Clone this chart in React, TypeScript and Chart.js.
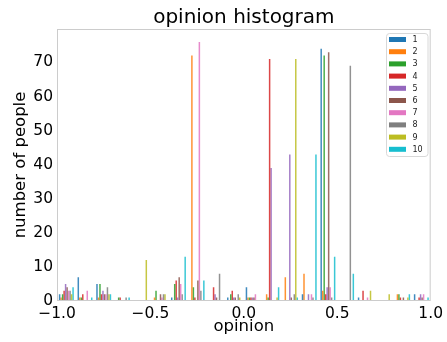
import React, { useEffect, useRef } from "react";
import { Chart, registerables } from "chart.js";

Chart.register(...registerables);

// 20 bins of width 0.1 from -1.0 to 1.0 (bin centres)
const binLabels = [
  "-0.95", "-0.85", "-0.75", "-0.65", "-0.55", "-0.45", "-0.35", "-0.25", "-0.15", "-0.05",
  "0.05", "0.15", "0.25", "0.35", "0.45", "0.55", "0.65", "0.75", "0.85", "0.95",
];

const seriesNames = ["1", "2", "3", "4", "5", "6", "7", "8", "9", "10"];

const s1 = [2, 7, 5, 0, 0, 0, 1, 0, 0, 1, 4, 0, 0, 2, 74, 0, 1, 0, 0, 2];
const s2 = [1, 1, 1, 0, 0, 1, 0, 72, 0, 0, 1, 2, 7, 8, 3, 0, 0, 0, 2, 0];
const s3 = [2, 1, 5, 1, 0, 3, 5, 4, 0, 2, 1, 1, 0, 0, 72, 0, 0, 0, 2, 0];
const s4 = [3, 2, 2, 1, 0, 0, 6, 1, 4, 3, 1, 71, 0, 0, 2, 0, 3, 0, 1, 1];
const s5 = [5, 0, 3, 0, 0, 0, 1, 0, 2, 1, 1, 39, 43, 2, 4, 0, 0, 0, 0, 2];
const s6 = [4, 0, 2, 0, 0, 2, 7, 6, 1, 1, 1, 0, 1, 0, 73, 0, 0, 0, 1, 1];
const s7 = [3, 3, 2, 0, 0, 1, 5, 76, 0, 0, 2, 0, 0, 2, 4, 0, 1, 0, 0, 2];
const s8 = [3, 0, 4, 1, 0, 2, 2, 3, 8, 2, 0, 0, 2, 1, 1, 69, 0, 0, 0, 0];
const s9 = [2, 0, 2, 0, 12, 2, 0, 0, 0, 1, 0, 1, 71, 0, 0, 0, 3, 2, 1, 0];
const s10 = [4, 1, 2, 1, 0, 0, 13, 6, 0, 0, 0, 4, 1, 43, 13, 8, 0, 0, 2, 1];

const series = [s1, s2, s3, s4, s5, s6, s7, s8, s9, s10];

const colors = [
  "#1f77b4", "#ff7f0e", "#2ca02c", "#d62728", "#9467bd",
  "#8c564b", "#e377c2", "#7f7f7f", "#bcbd22", "#17becf",
];

const xTicks = [-1, -0.5, 0, 0.5, 1];
const yTicks = [0, 10, 20, 30, 40, 50, 60, 70];
const yMax = 79.8;

const titleText = "opinion histogram";
const xLabel = "opinion";
const yLabel = "number of people";

const FONT = "'DejaVu Sans', sans-serif";

function hexA(hex: string, a: number) {
  const n = parseInt(hex.slice(1), 16);
  return `rgba(${(n >> 16) & 255},${(n >> 8) & 255},${n & 255},${a})`;
}

export default function App() {
  const ref = useRef<HTMLCanvasElement>(null);

  useEffect(() => {
    document.body.style.margin = "0";
    const overlay = {
      id: "overlay",
      afterDraw(chart: any) {
        const ctx = chart.ctx as CanvasRenderingContext2D;
        const a = chart.chartArea;
        ctx.save();
        // frame
        ctx.strokeStyle = "#cccccc";
        ctx.lineWidth = 1;
        ctx.strokeRect(a.left + 0.5, a.top + 0.5, a.right - a.left - 1, a.bottom - a.top - 1);
        // title
        ctx.fillStyle = "#000";
        ctx.textAlign = "center";
        ctx.textBaseline = "alphabetic";
        ctx.font = `20px ${FONT}`;
        ctx.fillText(titleText, (a.left + a.right) / 2, 23);
        // x label
        ctx.font = `16.5px ${FONT}`;
        ctx.fillText(xLabel, (a.left + a.right) / 2, 331);
        // y label
        ctx.save();
        ctx.translate(25, (a.top + a.bottom) / 2);
        ctx.rotate(-Math.PI / 2);
        ctx.fillText(yLabel, 0, 0);
        ctx.restore();
        // legend
        const bx = 386.5, by = 33.5, bw = 41.5, bh = 123;
        ctx.beginPath();
        (ctx as any).roundRect(bx, by, bw, bh, 3);
        ctx.fillStyle = "rgba(255,255,255,0.8)";
        ctx.fill();
        ctx.strokeStyle = "#d8d8d8";
        ctx.stroke();
        ctx.font = `8px ${FONT}`;
        ctx.textAlign = "left";
        ctx.textBaseline = "middle";
        chart.data.datasets.forEach((ds: any, i: number) => {
          const cy = 39.5 + 12.2 * i;
          ctx.fillStyle = colors[i];
          ctx.fillRect(389, cy - 2.5, 17, 5);
          ctx.fillStyle = "#222";
          ctx.fillText(ds.label, 412.5, cy + 0.5);
        });
        ctx.restore();
      },
    };

    const chart = new Chart(ref.current as HTMLCanvasElement, {
      type: "bar",
      data: {
        labels: binLabels,
        datasets: series.map((d, i) => ({
          label: seriesNames[i],
          data: d,
          backgroundColor: hexA(colors[i], 0.85),
          borderWidth: 0,
          xAxisID: "x",
          yAxisID: "y",
          categoryPercentage: 0.8,
          barPercentage: 1,
        })),
      },
      options: {
        responsive: false,
        animation: false,
        layout: { padding: { top: 29, right: 16, left: 0, bottom: 0 } },
        plugins: {
          legend: { display: false },
          title: { display: false },
          tooltip: { enabled: false },
        },
        scales: {
          x: {
            type: "category",
            display: false,
            offset: true,
            grid: { display: false },
          },
          x2: {
            type: "linear",
            position: "bottom",
            min: -1,
            max: 1,
            offset: false,
            grid: { display: false, drawTicks: false, offset: false },
            border: { display: false },
            ticks: {
              color: "#000",
              font: { family: FONT, size: 15.5 },
              padding: 4,
              maxRotation: 0,
              autoSkip: false,
              callback: (v: any) => {
                const n = Number(v);
                return (n < 0 ? "\u2212" : "") + Math.abs(n).toFixed(1);
              },
            },
            afterBuildTicks: (s: any) => {
              s.ticks = xTicks.map((v) => ({ value: v }));
            },
            afterFit: (s: any) => {
              s.height = 41;
            },
          },
          y: {
            type: "linear",
            min: 0,
            max: yMax,
            grid: { display: false, drawTicks: false },
            border: { display: false },
            ticks: {
              color: "#000",
              font: { family: FONT, size: 15.5 },
              padding: 4,
              autoSkip: false,
              callback: (v: any) => String(v),
            },
            afterBuildTicks: (s: any) => {
              s.ticks = yTicks.map((v) => ({ value: v }));
            },
            afterFit: (s: any) => {
              s.width = 57;
            },
          },
        },
      } as any,
      plugins: [overlay],
    });
    return () => chart.destroy();
  }, []);

  return (
    <div style={{ width: 447, height: 342 }}>
      <canvas ref={ref} width={447} height={342} style={{ display: "block" }} />
    </div>
  );
}
